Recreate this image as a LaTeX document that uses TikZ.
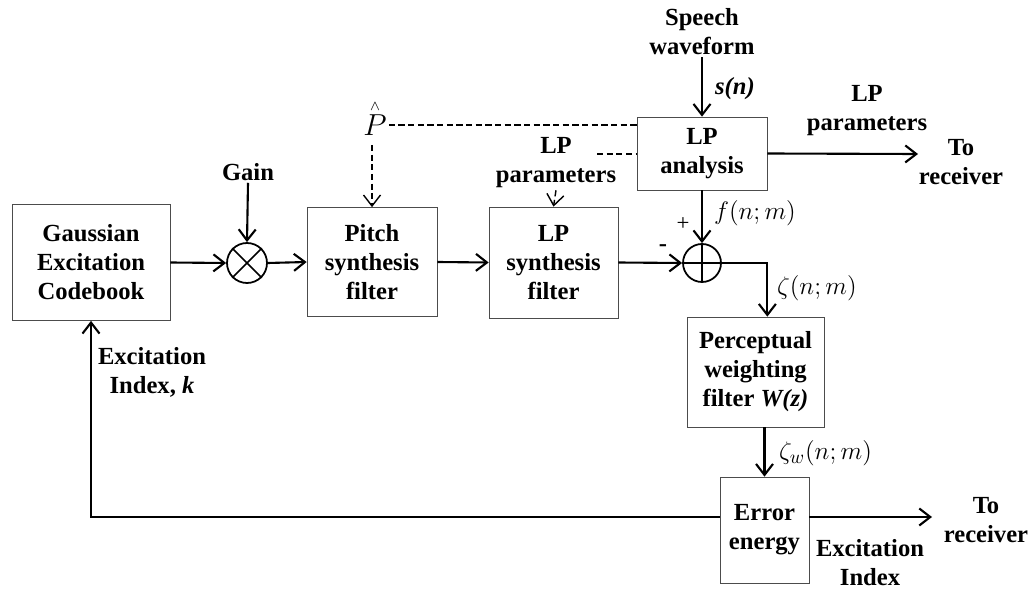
\documentclass[tikz,border=0pt]{standalone}
\usepackage{fontspec}
\setmainfont{Liberation Serif}
\usetikzlibrary{arrows.meta}
\begin{document}
\begin{tikzpicture}[>={Straight Barb[length=2.2mm, width=3.4mm]}, every node/.style={font=\fontsize{14}{16.5}\selectfont\bfseries}]
        \tikzstyle{blk} = [draw=black!70, rectangle, align=center, inner sep=1pt]
        \tikzstyle{junc} = [draw, circle, minimum size=0.8cm, inner sep=0pt, line width=1pt]
        \tikzstyle{lbl} = [align=center, inner sep=1pt]
        \tikzstyle{sig} = [font=\fontsize{15}{18}\selectfont, inner sep=1pt]
        \tikzstyle{dsh} = [dash pattern=on 3.5pt off 2pt, line width=0.8pt]
        \useasboundingbox (0,0) rectangle (20.58,11.8);
        % forward path
        \node[blk, minimum width=3.16cm, minimum height=2.32cm] (gauss) at (1.82, 6.55) {Gaussian\\Excitation\\Codebook};
        \node[junc] (mult) at (4.94, 6.54) {};
        \node[lbl] (gain) at (4.96, 8.36) {Gain};
        \node[blk, minimum width=2.6cm, minimum height=2.18cm] (pitch) at (7.44, 6.56) {Pitch\\synthesis\\filter};
        \node[blk, minimum width=2.58cm, minimum height=2.22cm] (syn) at (11.07, 6.55) {LP\\synthesis\\filter};
        \node[junc, minimum size=0.76cm] (sum) at (14.04, 6.54) {};
        % analysis part
        \node[blk, minimum width=2.6cm, minimum height=1.46cm] (ana) at (14.04, 8.73) {LP\\analysis};
        \node[lbl] (speech) at (14.04, 11.16) {Speech\\waveform};
        \node[lbl, anchor=west] (sn) at (14.26, 10.02) {\textit{s(n)}};
        \node[sig, font=\fontsize{18}{20}\selectfont, label={[inner sep=0pt, yshift=1pt, font=\fontsize{8}{9}\selectfont]above:$\wedge$}] (phat) at (7.5, 9.3) {$P$};
        \node[lbl] (lpp) at (11.12, 8.54) {LP\\parameters};
        \coordinate (lpd) at (11.94, 8.72);
        \node[lbl] (lpo) at (17.34, 9.58) {LP\\parameters};
        \coordinate (rx1) at (18.36, 8.72);
        \node[lbl] (to1) at (19.22, 8.56) {To\\receiver};
        \node[sig, anchor=west] (fnm) at (14.24, 7.54) {$f(n;m)$};
        \node[sig, font=\fontsize{13}{15}\selectfont] (plus) at (13.66, 7.32) {+};
        \node[sig, font=\fontsize{14}{15}\selectfont\bfseries] (minus) at (13.26, 6.84) {-};
        % weighting and error
        \node[sig, anchor=west] (zeta) at (15.5, 6.04) {$\zeta(n;m)$};
        \node[blk, minimum width=2.74cm, minimum height=2.2cm] (perc) at (15.11, 4.36) {Perceptual\\weighting\\filter \textit{W(z)}};
        \node[sig, anchor=west] (zetaw) at (15.54, 2.74) {$\zeta_w(n;m)$};
        \node[blk, minimum width=1.78cm, minimum height=2.12cm] (err) at (15.29, 1.2) {Error\\energy};
        \coordinate (rx2) at (18.64, 1.46);
        \node[lbl] (to2) at (19.72, 1.4) {To\\receiver};
        \node[lbl] (eidx) at (17.4, 0.54) {Excitation\\Index};
        \node[lbl] (kidx) at (3.04, 4.36) {Excitation\\Index, \textit{k}};
        % junction marks
        \draw[line width=1pt] (mult.north west) -- (mult.south east);
        \draw[line width=1pt] (mult.north east) -- (mult.south west);
        \draw[line width=1pt] (sum.north) -- (sum.south);
        \draw[line width=1pt] (sum.west) -- (sum.east);
        % connectors
        \draw[->, very thick] (gauss.east) -- (mult.west);
        \draw[->, very thick] (gain.south) -- (mult.north);
        \draw[->, very thick] (mult.east) -- (pitch.west);
        \draw[->, very thick] (pitch.east) -- (syn.west);
        \draw[->, very thick] (syn.east) -- (sum.west);
        \draw[->, very thick] (speech.south) -- (ana.north);
        \draw[->, very thick] (ana.south) -- (sum.north);
        \draw[->, very thick] (ana.east) -- (rx1);
        \draw[->, very thick] (sum.east) -| (perc.north -| ana.east);
        \draw[->, very thick] (err.north |- perc.south) -- (err.north);
        \draw[->, very thick] (err.east |- rx2) -- (rx2);
        \draw[->, very thick] (err.west |- rx2) -- (gauss.south |- rx2) -- (gauss.south);
        \draw[dsh] (phat.east) -- (phat.east -| ana.west);
        \draw[->, dsh] ([yshift=-0.15cm]phat.south -| pitch.north) -- (pitch.north);
        \draw[dsh] (lpd) -- (lpd -| ana.west);
        \draw[->, dsh] (lpp.south) -- (syn.north);
\end{tikzpicture}
\end{document}
